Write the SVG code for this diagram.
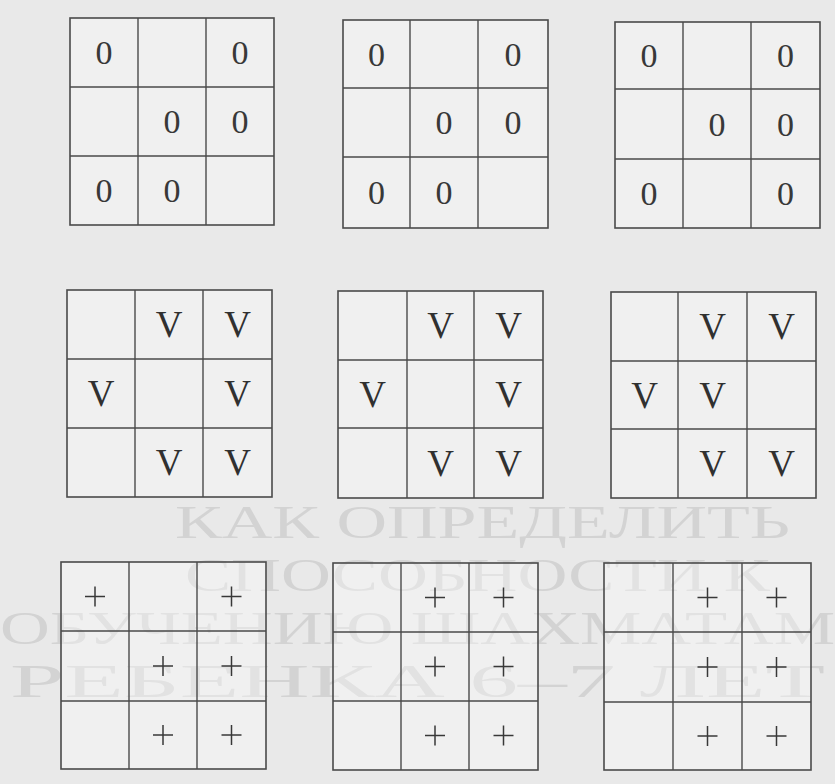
<svg xmlns="http://www.w3.org/2000/svg" width="835" height="784" viewBox="0 0 835 784">
<style>
.bg{fill:#e9e9e9}
.ghost{font-family:"Liberation Serif","DejaVu Serif",serif;fill:#d3d3d3;font-size:46px}
.box{fill:#ffffff;fill-opacity:0.35;stroke:#4a4a4a;stroke-width:1.6}
.ln{stroke:#4a4a4a;stroke-width:1.4;fill:none}
.o{font-family:"Liberation Serif","DejaVu Serif",serif;font-size:34px;fill:#383838;text-anchor:middle}
.v{font-family:"Liberation Serif","DejaVu Serif",serif;font-size:37px;fill:#303030;text-anchor:middle}
.p{stroke:#383838;stroke-width:1.5}
</style>
<defs>
<path id="plus" class="p" d="M-10 0H10M0 -10V10"/>
</defs>
<rect class="bg" x="0" y="0" width="835" height="784"/>
<g id="ghost-title">
<text class="ghost" x="175" y="538" textLength="615" lengthAdjust="spacingAndGlyphs">КАК ОПРЕДЕЛИТЬ</text>
<text class="ghost" x="185" y="591" textLength="585" lengthAdjust="spacingAndGlyphs">СПОСОБНОСТИ К</text>
<text class="ghost" x="0" y="644" textLength="835" lengthAdjust="spacingAndGlyphs">ОБУЧЕНИЮ ШАХМАТАМ</text>
<text class="ghost" x="10" y="697" textLength="815" lengthAdjust="spacingAndGlyphs">РЕБЕНКА 6–7 ЛЕТ</text>
</g>

<g id="grid1">
<rect class="box" x="70" y="18" width="204" height="207"/>
<path class="ln" d="M138 18V225M206 18V225M70 87H274M70 156H274"/>
<text class="o" x="104" y="64">0</text><text class="o" x="240" y="64">0</text>
<text class="o" x="172" y="133">0</text><text class="o" x="240" y="133">0</text>
<text class="o" x="104" y="202">0</text><text class="o" x="172" y="202">0</text>
</g>
<g id="grid2">
<rect class="box" x="343" y="20" width="205" height="208"/>
<path class="ln" d="M410 20V228M478 20V228M343 88H548M343 157H548"/>
<text class="o" x="376.5" y="65.5">0</text><text class="o" x="513" y="65.5">0</text>
<text class="o" x="444" y="134">0</text><text class="o" x="513" y="134">0</text>
<text class="o" x="376.5" y="204">0</text><text class="o" x="444" y="204">0</text>
</g>
<g id="grid3">
<rect class="box" x="615" y="22" width="205" height="206"/>
<path class="ln" d="M683 22V228M751 22V228M615 89H820M615 159H820"/>
<text class="o" x="649" y="67">0</text><text class="o" x="785.5" y="67">0</text>
<text class="o" x="717" y="135.5">0</text><text class="o" x="785.5" y="135.5">0</text>
<text class="o" x="649" y="205">0</text><text class="o" x="785.5" y="205">0</text>
</g>

<g id="grid4">
<rect class="box" x="67" y="290" width="205" height="207"/>
<path class="ln" d="M135 290V497M203 290V497M67 359H272M67 428H272"/>
<text class="v" x="169" y="337">V</text><text class="v" x="237.5" y="337">V</text>
<text class="v" x="101" y="406">V</text><text class="v" x="237.5" y="406">V</text>
<text class="v" x="169" y="475">V</text><text class="v" x="237.5" y="475">V</text>
</g>
<g id="grid5">
<rect class="box" x="338" y="291" width="205" height="207"/>
<path class="ln" d="M407 291V498M474 291V498M338 360H543M338 428H543"/>
<text class="v" x="440.5" y="338">V</text><text class="v" x="508.5" y="338">V</text>
<text class="v" x="372.5" y="406.5">V</text><text class="v" x="508.5" y="406.5">V</text>
<text class="v" x="440.5" y="475.5">V</text><text class="v" x="508.5" y="475.5">V</text>
</g>
<g id="grid6">
<rect class="box" x="611" y="292" width="205" height="206"/>
<path class="ln" d="M678 292V498M747 292V498M611 361H816M611 429H816"/>
<text class="v" x="712.5" y="339">V</text><text class="v" x="781.5" y="339">V</text>
<text class="v" x="644.5" y="407.5">V</text><text class="v" x="712.5" y="407.5">V</text>
<text class="v" x="712.5" y="476">V</text><text class="v" x="781.5" y="476">V</text>
</g>

<g id="grid7">
<rect class="box" x="61" y="562" width="205" height="207"/>
<path class="ln" d="M129 562V769M197 562V769M61 631H266M61 701H266"/>
<use href="#plus" x="95" y="596.5"/><use href="#plus" x="231.5" y="596.5"/>
<use href="#plus" x="163" y="666"/><use href="#plus" x="231.5" y="666"/>
<use href="#plus" x="163" y="735"/><use href="#plus" x="231.5" y="735"/>
</g>
<g id="grid8">
<rect class="box" x="333" y="563" width="205" height="207"/>
<path class="ln" d="M401 563V770M469 563V770M333 632H538M333 701H538"/>
<use href="#plus" x="435" y="597.5"/><use href="#plus" x="503.5" y="597.5"/>
<use href="#plus" x="435" y="666.5"/><use href="#plus" x="503.5" y="666.5"/>
<use href="#plus" x="435" y="735.5"/><use href="#plus" x="503.5" y="735.5"/>
</g>
<g id="grid9">
<rect class="box" x="604" y="563" width="207" height="207"/>
<path class="ln" d="M673 563V770M742 563V770M604 632H811M604 702H811"/>
<use href="#plus" x="707.5" y="597.5"/><use href="#plus" x="776.5" y="597.5"/>
<use href="#plus" x="707.5" y="667"/><use href="#plus" x="776.5" y="667"/>
<use href="#plus" x="707.5" y="736"/><use href="#plus" x="776.5" y="736"/>
</g>
<g id="connectors"></g>
</svg>
